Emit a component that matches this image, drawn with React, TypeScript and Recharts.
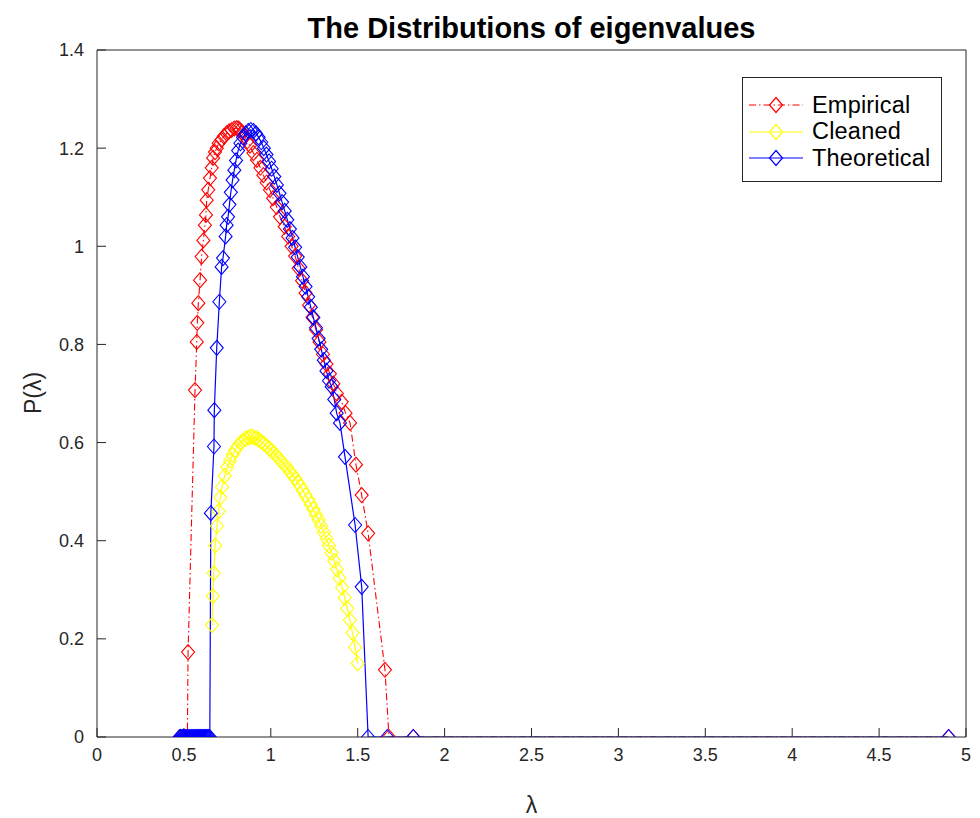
import React from "react"
import { ComposedChart, Line, XAxis, YAxis } from "recharts"

// eigenvalue positions (lambda) and densities
const empiricalX = [
  0.48, 0.5, 0.52, 0.524, 0.564, 0.574, 0.577, 0.583, 0.593, 0.602, 0.612, 0.621, 0.627, 0.631, 0.64, 0.65,
  0.66, 0.668, 0.679, 0.689, 0.7, 0.717, 0.73, 0.746, 0.76, 0.775, 0.79, 0.804, 0.815, 0.823, 0.835, 0.85,
  0.865, 0.88, 0.9, 0.92, 0.94, 0.957, 0.976, 0.995, 1.013, 1.034, 1.053, 1.08, 1.1, 1.12, 1.14, 1.16, 1.18,
  1.2, 1.22, 1.24, 1.26, 1.28, 1.3, 1.32, 1.34, 1.36, 1.38, 1.408, 1.43, 1.456, 1.49, 1.523, 1.56, 1.657,
  1.68, 1.82, 4.9,
]
const empiricalY = [
  0, 0, 0, 0.173, 0.707, 0.805, 0.844, 0.884, 0.931, 0.979, 1.012, 1.043, 1.064, 1.094, 1.115, 1.139,
  1.16, 1.18, 1.192, 1.2, 1.21, 1.217, 1.224, 1.23, 1.234, 1.237, 1.24, 1.241, 1.24, 1.237, 1.232, 1.224,
  1.214, 1.205, 1.19, 1.176, 1.16, 1.145, 1.13, 1.115, 1.098, 1.08, 1.06, 1.04, 1.02, 1.0, 0.98, 0.955, 0.93,
  0.905, 0.88, 0.855, 0.83, 0.805, 0.78, 0.76, 0.74, 0.72, 0.7, 0.683, 0.66, 0.64, 0.555, 0.493, 0.415, 0.137,
  0, 0, 0,
]

const cleanedX = [
  0.662, 0.667, 0.672, 0.68, 0.69, 0.7, 0.71, 0.72, 0.735, 0.75, 0.765, 0.78, 0.795, 0.81, 0.825, 0.84,
  0.855, 0.87, 0.885, 0.9, 0.915, 0.93, 0.945, 0.96, 0.975, 0.99, 1.005, 1.02, 1.035, 1.05, 1.065, 1.08,
  1.095, 1.11, 1.125, 1.14, 1.155, 1.17, 1.185, 1.2, 1.215, 1.23, 1.245, 1.26, 1.275, 1.29, 1.305, 1.32,
  1.335, 1.35, 1.365, 1.38, 1.395, 1.41, 1.425, 1.44, 1.455, 1.47, 1.485, 1.5,
]
const cleanedY = [
  0.228, 0.287, 0.334, 0.39, 0.43, 0.46, 0.488, 0.51, 0.532, 0.55, 0.563, 0.575, 0.585, 0.593, 0.599, 0.604,
  0.608, 0.61, 0.612, 0.611, 0.609, 0.606, 0.602, 0.598, 0.593, 0.588, 0.583, 0.578, 0.572, 0.566, 0.56, 0.554,
  0.548, 0.541, 0.534, 0.527, 0.519, 0.511, 0.502, 0.493, 0.484, 0.474, 0.464, 0.453, 0.442, 0.43, 0.417, 0.404,
  0.39, 0.375, 0.359, 0.342, 0.324, 0.305, 0.284, 0.262, 0.238, 0.212, 0.183, 0.15,
]

const theoreticalX = [
  0.475, 0.481, 0.487, 0.493, 0.499, 0.505, 0.511, 0.517, 0.523, 0.529, 0.535, 0.541, 0.547, 0.553, 0.559,
  0.565, 0.571, 0.577, 0.583, 0.589, 0.595, 0.601, 0.607, 0.613, 0.619, 0.625, 0.631, 0.637, 0.643, 0.649,
  0.655, 0.673, 0.675, 0.689, 0.704, 0.717, 0.725, 0.74, 0.746, 0.754, 0.762, 0.77, 0.78, 0.79, 0.8, 0.812,
  0.825, 0.84, 0.855, 0.87, 0.885, 0.9, 0.915, 0.93, 0.945, 0.96, 0.975, 0.99, 1.005, 1.02, 1.035, 1.05,
  1.065, 1.08, 1.095, 1.11, 1.125, 1.14, 1.155, 1.17, 1.185, 1.2, 1.215, 1.23, 1.245, 1.26, 1.275, 1.29,
  1.305, 1.32, 1.335, 1.35, 1.365, 1.379, 1.398, 1.427, 1.485, 1.523, 1.56, 1.67, 1.82, 4.9,
]
const theoreticalY = [
  0, 0, 0, 0, 0, 0, 0, 0, 0, 0, 0, 0, 0, 0, 0,
  0, 0, 0, 0, 0, 0, 0, 0, 0, 0, 0, 0, 0, 0, 0,
  0.456, 0.592, 0.666, 0.793, 0.887, 0.958, 0.976, 1.02, 1.043, 1.06, 1.085, 1.11, 1.135, 1.155, 1.175, 1.195,
  1.21, 1.222, 1.23, 1.235, 1.237, 1.235, 1.23, 1.222, 1.212, 1.2, 1.187, 1.173, 1.158, 1.142, 1.125, 1.108,
  1.09, 1.072, 1.054, 1.035, 1.017, 0.998, 0.978, 0.958, 0.938, 0.918, 0.897, 0.876, 0.855, 0.834, 0.812, 0.79,
  0.768, 0.746, 0.726, 0.714, 0.688, 0.66, 0.64, 0.571, 0.432, 0.306, 0, 0, 0, 0,
]

const xTicks = [0, 0.5, 1, 1.5, 2, 2.5, 3, 3.5, 4, 4.5, 5]
const yTicks = [0, 0.2, 0.4, 0.6, 0.8, 1, 1.2, 1.4]

const empiricalData = empiricalX.map((x, i) => ({ x, y: empiricalY[i] }))
const cleanedData = cleanedX.map((x, i) => ({ x, y: cleanedY[i] }))
const theoreticalData = theoreticalX.map((x, i) => ({ x, y: theoreticalY[i] }))

const FONT = "'Liberation Sans', Arial, Helvetica, sans-serif"
const AXIS = "#262626"
const RED = "#ff0000"
const YELLOW = "#ffff00"
const BLUE = "#0000ff"
const DASHDOT = "7 3 1.5 3"

function diamond(color: string) {
  return (props: any) => {
    const { cx, cy, index } = props
    if (cx == null || cy == null) return <g key={index} />
    return (
      <path
        key={index}
        d={`M${cx},${cy - 7.5}L${cx + 6.5},${cy}L${cx},${cy + 7.5}L${cx - 6.5},${cy}Z`}
        fill="none"
        stroke={color}
        strokeWidth={1.1}
      />
    )
  }
}

function LegendBox() {
  const rows = [
    { name: "Empirical", color: RED, dash: DASHDOT },
    { name: "Cleaned", color: YELLOW, dash: undefined },
    { name: "Theoretical", color: BLUE, dash: undefined },
  ]
  return (
    <div
      style={{
        position: "absolute",
        left: 742,
        top: 77,
        width: 200,
        height: 105,
        border: "1px solid #262626",
        background: "#fff",
        boxSizing: "border-box",
      }}
    >
      {rows.map((r, i) => (
        <div key={r.name} style={{ position: "absolute", left: 0, top: 14 + i * 26.5, height: 26, display: "flex", alignItems: "center" }}>
          <svg width={66} height={20} style={{ display: "block" }}>
            <line x1={6} y1={10} x2={60} y2={10} stroke={r.color} strokeWidth={1.2} strokeDasharray={r.dash} />
            <path d="M33,2.5L39.5,10L33,17.5L26.5,10Z" fill="none" stroke={r.color} strokeWidth={1.2} />
          </svg>
          <span style={{ fontFamily: FONT, fontSize: 23.5, color: "#000", marginLeft: 3, letterSpacing: 0.2 }}>{r.name}</span>
        </div>
      ))}
    </div>
  )
}

export default function App() {
  return (
    <div style={{ position: "absolute", left: 0, top: 0, width: 980, height: 818, background: "#fff" }}>
      <ComposedChart width={980} height={818} margin={{ top: 49, right: 13, bottom: 41, left: 40 }}>
        <XAxis
          xAxisId="bottom"
          dataKey="x"
          type="number"
          domain={[0, 5]}
          ticks={xTicks}
          allowDataOverflow
          height={40}
          tickSize={-9}
          tickMargin={20}
          axisLine={{ stroke: AXIS, strokeWidth: 1 }}
          tickLine={{ stroke: AXIS }}
          tick={{ fill: AXIS, fontSize: 18, fontFamily: FONT }}
        />
        <XAxis
          xAxisId="top"
          orientation="top"
          dataKey="x"
          type="number"
          domain={[0, 5]}
          ticks={xTicks}
          allowDataOverflow
          height={1}
          tickSize={-9}
          tick={false}
          axisLine={{ stroke: AXIS, strokeWidth: 1 }}
          tickLine={{ stroke: AXIS }}
        />
        <YAxis
          yAxisId="left"
          type="number"
          domain={[0, 1.4]}
          ticks={yTicks}
          allowDataOverflow
          width={57}
          tickSize={-9}
          tickMargin={22}
          axisLine={{ stroke: AXIS, strokeWidth: 1 }}
          tickLine={{ stroke: AXIS }}
          tick={{ fill: AXIS, fontSize: 18, fontFamily: FONT }}
        />
        <YAxis
          yAxisId="right"
          orientation="right"
          type="number"
          domain={[0, 1.4]}
          ticks={yTicks}
          allowDataOverflow
          width={1}
          tickSize={-9}
          tick={false}
          axisLine={{ stroke: AXIS, strokeWidth: 1 }}
          tickLine={{ stroke: AXIS }}
        />
        <Line
          xAxisId="top"
          yAxisId="right"
          data={cleanedData}
          dataKey="y"
          type="linear"
          stroke={YELLOW}
          strokeWidth={1.2}
          dot={diamond(YELLOW)}
          activeDot={false}
          isAnimationActive={false}
        />
        <Line
          xAxisId="bottom"
          yAxisId="left"
          data={empiricalData}
          dataKey="y"
          type="linear"
          stroke={RED}
          strokeWidth={1.1}
          strokeDasharray={DASHDOT}
          dot={diamond(RED)}
          activeDot={false}
          isAnimationActive={false}
        />
        <Line
          xAxisId="bottom"
          yAxisId="left"
          data={theoreticalData}
          dataKey="y"
          type="linear"
          stroke={BLUE}
          strokeWidth={1.2}
          dot={diamond(BLUE)}
          activeDot={false}
          isAnimationActive={false}
        />
      </ComposedChart>
      <div
        style={{
          position: "absolute",
          left: 97,
          width: 869,
          top: 12,
          textAlign: "center",
          fontFamily: FONT,
          fontWeight: "bold",
          fontSize: 29,
          color: "#000",
        }}
      >
        The Distributions of eigenvalues
      </div>
      <div
        style={{
          position: "absolute",
          left: 97,
          width: 869,
          top: 792,
          textAlign: "center",
          fontFamily: FONT,
          fontSize: 23,
          color: AXIS,
        }}
      >
        λ
      </div>
      <div
        style={{
          position: "absolute",
          left: 33 - 40,
          top: 393 - 14,
          width: 80,
          height: 28,
          lineHeight: "28px",
          textAlign: "center",
          fontFamily: FONT,
          fontSize: 23,
          color: AXIS,
          transform: "rotate(-90deg)",
        }}
      >
        P(λ)
      </div>
      <LegendBox />
    </div>
  )
}
